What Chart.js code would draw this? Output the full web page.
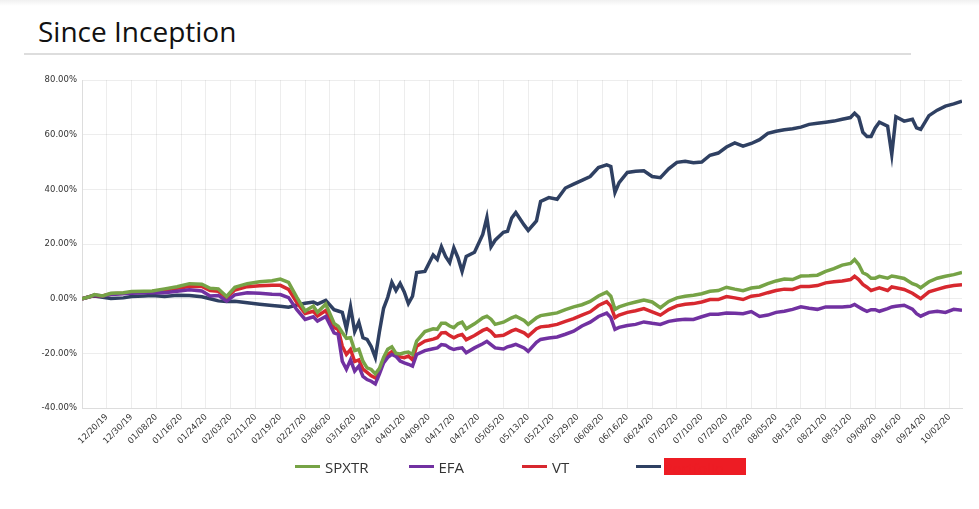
<!DOCTYPE html>
<html>
<head>
<meta charset="utf-8">
<title>Since Inception</title>
<script src="https://cdn.jsdelivr.net/npm/chart.js@4.4.1/dist/chart.umd.min.js"></script>
<style>
  body { margin: 0; background: #fff; width: 979px; height: 509px; position: relative; overflow: hidden; font-family: "Open Sans", sans-serif; }
  .shade { position: absolute; left: 0; top: 0; width: 979px; height: 6px; background: linear-gradient(rgba(0,0,0,0.06), rgba(0,0,0,0)); }
  h1 { position: absolute; left: 38px; top: 17px; margin: 0; font-size: 28px; line-height: 28px; font-weight: 400; color: #111; }
  .rule { position: absolute; left: 24px; top: 53px; width: 887px; height: 2px; background: #dddddd; }
  #box { position: absolute; left: 0; top: 70px; width: 979px; height: 390px; }
  #legend { position: absolute; left: 295px; top: 458px; display: flex; }
  #legend .item { width: 113.5px; display: flex; align-items: center; height: 17px; font-size: 15px; color: #333; }
  #legend .swatch { display: inline-block; width: 25px; height: 3px; margin-right: 5px; }
  #legend .hidden { display: inline-block; width: 82px; height: 17px; margin-left: -2px; background: #ed1c24; color: #ed1c24; overflow: hidden; white-space: nowrap; }
</style>
</head>
<body>
<div class="shade"></div>
<h1>Since Inception</h1>
<div class="rule"></div>
<div id="box"><canvas id="chartInception"></canvas></div>
<div id="legend"></div>
<script>
// weekday index from 12/12/19 (0) to 10/07/20 (213)
const dayIdx = [
  0, 2, 3, 5, 7, 10, 12, 15, 17, 20,
  23, 26, 29, 31, 33, 35, 37, 40, 43, 46,
  48, 50, 52, 54, 56, 57, 59, 61, 62, 63,
  64, 65, 66, 67, 68, 69, 70, 71, 72, 73,
  74, 75, 76, 77, 78, 79, 80, 81, 83, 85,
  86, 87, 88, 89, 90, 91, 92, 93, 95, 97,
  98, 99, 100, 102, 103, 104, 105, 107, 108, 110,
  111, 113, 115, 117, 119, 121, 123, 125, 127, 128,
  129, 130, 132, 134, 136, 138, 140, 142, 144, 146,
  148, 150, 152, 154, 156, 158, 160, 162, 164, 166,
  168, 170, 172, 174, 176, 178, 180, 182, 184, 186,
  187, 188, 189, 190, 191, 192, 193, 195, 196, 197,
  199, 201, 202, 203, 205, 207, 209, 211, 213
];

const spxtr = [
  0, 0.8, 1.5, 1.0, 2.0, 2.2, 2.6, 2.7, 2.8, 3.6,
  4.4, 5.5, 5.3, 3.8, 3.6, 0.8, 4.2, 5.5, 6.2, 6.6,
  7.2, 6.0, 0.5, -4.5, -2.7, -5.0, -2.0, -9.0, -10.1, -12.4,
  -14.5, -14.3, -19.0, -18.5, -22.9, -25.3, -25.9, -27.5, -25.5, -21.5,
  -18.5, -17.6, -20.0, -20.2, -19.8, -19.5, -20.4, -15.5, -12.0, -11.0,
  -11.2, -9.0, -9.0, -10.0, -10.6, -9.2, -8.6, -11.0, -9.2, -7.0,
  -6.4, -7.5, -9.4, -8.6, -7.8, -7.0, -6.4, -8.0, -9.4, -7.0,
  -6.2, -5.7, -5.2, -4.0, -3.0, -2.2, -1.0, 1.0, 2.4, 0.9,
  -3.9, -3.0, -2.0, -1.2, -0.5, -1.2, -3.3, -1.0, 0.3, 0.9,
  1.3, 1.8, 2.7, 3.0, 4.2, 3.5, 2.9, 3.9, 4.3, 5.5,
  6.5, 7.2, 7.0, 8.3, 8.4, 8.6, 10.0, 11.0, 12.3, 12.9,
  14.3, 12.5, 9.5, 8.8, 7.5, 7.5, 8.2, 7.5, 8.3, 8.0,
  7.4, 5.5, 5.0, 4.0, 6.2, 7.5, 8.2, 8.8, 9.6
];

const efa = [
  0, 0.8, 1.3, 1.0, 1.5, 1.8, 2.0, 2.2, 2.2, 2.2,
  2.7, 3.3, 2.8, 1.0, 1.2, -0.9, 1.4, 2.2, 2.0, 1.6,
  1.5, 0.4, -4.0, -7.6, -6.6, -8.2, -6.5, -12.5, -13.1, -22.9,
  -25.8, -22.4, -26.5, -24.7, -28.4, -29.6, -30.2, -31.2, -27.5, -23.5,
  -21.5, -20.4, -21.1, -22.8, -23.5, -24.0, -24.7, -20.4, -19.0, -18.3,
  -18.0, -16.8, -17.0, -18.0, -18.6, -18.2, -18.0, -19.8, -18.0, -16.5,
  -15.6, -16.8, -18.0, -18.4, -17.6, -17.2, -16.7, -18.0, -19.3, -16.0,
  -14.9, -14.4, -14.0, -13.0, -11.9, -10.0, -8.6, -6.5, -5.3, -6.9,
  -11.2, -10.5, -9.8, -9.4, -8.5, -9.0, -9.4, -8.3, -7.8, -7.5,
  -7.6, -6.6, -5.7, -5.7, -5.2, -5.3, -5.5, -4.7, -6.5, -6.0,
  -5.0, -4.6, -3.9, -3.0, -3.5, -3.9, -3.0, -3.0, -3.0, -2.8,
  -2.1, -3.0, -3.9, -4.6, -4.0, -4.0, -4.6, -3.6, -3.0, -2.8,
  -2.4, -3.8, -5.5, -6.4, -5.0, -4.6, -5.0, -3.9, -4.2
];

const vt = [
  0, 0.8, 1.2, 1.0, 1.8, 2.0, 2.4, 2.5, 2.6, 3.2,
  3.8, 4.5, 4.5, 3.0, 2.7, 0.4, 3.2, 4.4, 4.7, 4.9,
  4.9, 3.4, -1.4, -5.4, -4.6, -6.3, -4.3, -10.5, -11.2, -17.4,
  -20.4, -18.6, -23.0, -22.4, -25.8, -27.0, -28.2, -29.0, -26.0, -23.0,
  -20.5, -19.4, -20.5, -21.3, -21.6, -21.0, -22.4, -17.4, -15.5, -14.8,
  -14.3, -12.5, -12.4, -13.5, -14.3, -13.5, -13.1, -15.0, -13.5, -11.6,
  -11.0, -12.0, -13.7, -13.4, -12.6, -11.8, -11.2, -12.5, -13.7, -11.0,
  -10.3, -10.0, -9.4, -8.3, -7.3, -6.0, -4.8, -2.5, -1.1, -2.7,
  -6.9, -6.0, -5.0, -4.4, -3.6, -4.8, -6.0, -4.0, -2.6, -2.0,
  -1.8, -1.2, -0.3, -0.3, 0.8, 0.3, -0.3, 0.9, 1.3, 2.2,
  3.0, 3.5, 3.4, 4.5, 4.5, 4.8, 5.8, 6.2, 6.5, 7.0,
  8.2, 7.0, 5.2, 4.2, 3.0, 3.5, 4.0, 3.0, 4.3, 4.0,
  3.4, 2.0, 1.0, 0.0, 2.5, 3.4, 4.3, 4.8, 5.1
];

const portfolio = [
  0, 0.8, 1.0, 0.5, 0.1, 0.3, 0.8, 1.0, 1.2, 0.8,
  1.3, 1.2, 0.7, 0.0, -0.8, -1.0, -0.9, -1.5, -2.0, -2.5,
  -2.8, -3.1, -2.3, -1.7, -1.2, -2.0, -0.6, -4.0, -4.5, -5.0,
  -11.0, -3.0, -12.0, -8.6, -14.3, -14.9, -17.5, -21.5, -12.0, -3.5,
  0.5, 6.0, 3.0, 5.6, 2.5, -1.8, 0.9, 9.6, 10.0, 16.0,
  14.4, 19.0, 15.5, 13.2, 18.6, 15.0, 10.0, 15.5, 17.0, 23.5,
  29.7, 19.0, 21.4, 24.3, 24.7, 29.5, 31.5, 27.0, 25.0, 28.5,
  35.6, 37.0, 36.4, 40.5, 41.9, 43.3, 44.7, 48.0, 49.0, 48.4,
  38.9, 42.5, 46.2, 46.6, 46.8, 44.7, 44.3, 47.5, 49.9, 50.3,
  49.8, 50.0, 52.5, 53.3, 55.5, 57.0, 55.8, 56.8, 58.2, 60.5,
  61.3, 61.8, 62.2, 62.8, 63.8, 64.2, 64.6, 65.0, 65.7, 66.3,
  67.9, 66.4, 60.9, 59.4, 59.4, 62.5, 64.6, 63.1, 52.8, 66.6,
  65.0, 65.7, 62.5, 62.0, 67.0, 69.0, 70.5, 71.3, 72.3
];

// one label every 6 weekdays, starting at index 6
const tickLabels = [
  "12/20/19", "12/30/19", "01/08/20", "01/16/20", "01/24/20", "02/03/20", "02/11/20",
  "02/19/20", "02/27/20", "03/06/20", "03/16/20", "03/24/20", "04/01/20", "04/09/20",
  "04/17/20", "04/27/20", "05/05/20", "05/13/20", "05/21/20", "05/29/20", "06/08/20",
  "06/16/20", "06/24/20", "07/02/20", "07/10/20", "07/20/20", "07/28/20", "08/05/20",
  "08/13/20", "08/21/20", "08/31/20", "09/08/20", "09/16/20", "09/24/20", "10/02/20"
];

const seriesNames = ["SPXTR", "EFA", "VT", "Portfolio"];
const seriesColors = ["#76a346", "#7131a1", "#d7282f", "#2f4062"];

function toPoints(values) {
    return values.map((v, i) => ({ x: dayIdx[i], y: v }));
}

function dibujarGrafico() {
    const allSeries = [spxtr, efa, vt, portfolio];
    const datasets = allSeries.map((values, i) => ({
        label: seriesNames[i],
        data: toPoints(values),
        borderColor: seriesColors[i],
        backgroundColor: seriesColors[i],
        borderWidth: 3.5,
        pointRadius: 0,
        tension: 0,
        fill: false
    }));

    const tickFont = { family: "DejaVu Sans", size: 8.5 };
    const gridColor = "rgba(0,0,0,0.07)";

    const config = {
        type: 'line',
        data: { datasets: datasets },
        options: {
            responsive: true,
            maintainAspectRatio: false,
            animation: false,
            layout: { padding: { top: 10, right: 17, left: 0, bottom: 0 } },
            plugins: {
                legend: { display: false },
                tooltip: { enabled: false }
            },
            scales: {
                x: {
                    type: 'linear',
                    min: 0,
                    max: 213,
                    grid: { color: gridColor, drawTicks: false },
                    border: { color: "#dddddd" },
                    afterFit: (scale) => { scale.height = 52; },
                    ticks: {
                        stepSize: 6,
                        autoSkip: false,
                        includeBounds: false,
                        maxRotation: 45,
                        minRotation: 45,
                        padding: 4,
                        color: "#333",
                        font: tickFont,
                        callback: (value) => {
                            if (value < 6 || value % 6 !== 0) return null;
                            return tickLabels[value / 6 - 1];
                        }
                    }
                },
                y: {
                    min: -40,
                    max: 80,
                    grid: { color: gridColor, drawTicks: false },
                    border: { color: "#dddddd" },
                    afterFit: (scale) => { scale.width = 82; },
                    ticks: {
                        stepSize: 20,
                        padding: 5,
                        color: "#333",
                        font: tickFont,
                        callback: (value) => value.toFixed(2) + "%"
                    }
                }
            }
        }
    };

    const canvas = document.getElementById("chartInception");
    const grafico = new Chart(canvas, config);

    // html legend
    const legend = document.getElementById("legend");
    seriesNames.forEach((name, i) => {
        const item = document.createElement("div");
        item.className = "item";
        const swatch = document.createElement("span");
        swatch.className = "swatch";
        swatch.style.background = seriesColors[i];
        item.appendChild(swatch);
        const text = document.createElement("span");
        text.textContent = name;
        if (i === 3) text.className = "hidden";
        item.appendChild(text);
        legend.appendChild(item);
    });
}

dibujarGrafico();
</script>
</body>
</html>
